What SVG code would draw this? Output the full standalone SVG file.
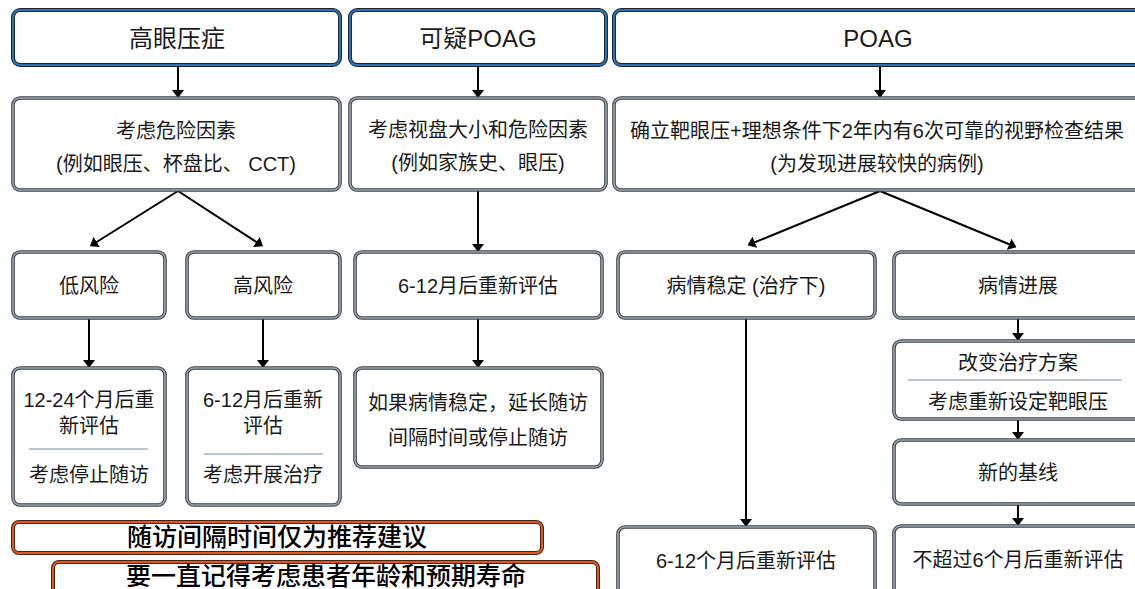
<svg xmlns="http://www.w3.org/2000/svg" width="1135" height="589" viewBox="0 0 1135 589">
<defs>
<style>
.t{font-family:"Liberation Sans","Noto Sans CJK SC",sans-serif;fill:#1a1a1a;text-anchor:middle;dominant-baseline:central}
.ti{font-size:24px}
.b{font-size:20px}
.o{font-size:25px;font-weight:500;fill:#000}
.do{fill:#fff;stroke:#1c2733;stroke-width:4}
.bi{fill:none;stroke:#2f6fb3;stroke-width:2}
.go{fill:#fff;stroke:#3b4147;stroke-width:3.6}
.gi{fill:none;stroke:#9aa4ae;stroke-width:1.6}
.oo{fill:#fff;stroke:#4a2410;stroke-width:4}
.oi{fill:none;stroke:#dc5a22;stroke-width:2}
.dv{stroke:#a9b3bc;stroke-width:1.5}
.c{stroke:#000;stroke-width:2;fill:none;marker-end:url(#ah)}
</style>
<marker id="ah" viewBox="0 0 8 12" refX="2" refY="6" markerWidth="8" markerHeight="12" markerUnits="userSpaceOnUse" orient="auto">
<path d="M0,0 L8,6 L0,12 z" fill="#000"/>
</marker>
</defs>
<rect width="1135" height="589" fill="#fff"/>

<g id="connectors">
<line class="c" x1="178" y1="65" x2="178" y2="92"/>
<line class="c" x1="478" y1="65" x2="478" y2="92"/>
<line class="c" x1="880" y1="65" x2="880" y2="92"/>
<line class="c" x1="178" y1="191" x2="95" y2="243"/>
<line class="c" x1="178" y1="191" x2="258" y2="243"/>
<line class="c" x1="880" y1="191" x2="753" y2="243"/>
<line class="c" x1="880" y1="191" x2="1011" y2="245"/>
<line class="c" x1="89" y1="318" x2="89" y2="362"/>
<line class="c" x1="263" y1="318" x2="263" y2="362"/>
<line class="c" x1="478" y1="190" x2="478" y2="246"/>
<line class="c" x1="478" y1="318" x2="478" y2="362"/>
<line class="c" x1="746" y1="319" x2="746" y2="521"/>
<line class="c" x1="1018" y1="318" x2="1018" y2="335"/>
<line class="c" x1="1018" y1="419" x2="1018" y2="434"/>
<line class="c" x1="1018" y1="504" x2="1018" y2="520"/>
</g>

<g id="n-ohn">
<rect class="do" x="13" y="10" width="327" height="55" rx="7"/>
<rect class="bi" x="13" y="10" width="327" height="55" rx="7"/>
<text class="t ti" x="177" y="38">高眼压症</text>
</g>
<g id="n-spoag">
<rect class="do" x="350" y="10" width="256" height="55" rx="7"/>
<rect class="bi" x="350" y="10" width="256" height="55" rx="7"/>
<text class="t ti" x="478" y="38">可疑POAG</text>
</g>
<g id="n-poag">
<rect class="do" x="614" y="10" width="530" height="55" rx="7"/>
<rect class="bi" x="614" y="10" width="530" height="55" rx="7"/>
<text class="t ti" x="878" y="38">POAG</text>
</g>

<g id="n-risk">
<rect class="go" x="13" y="98" width="327" height="92" rx="7"/>
<rect class="gi" x="13" y="98" width="327" height="92" rx="7"/>
<text class="t b" x="176" y="131">考虑危险因素</text>
<text class="t b" x="176" y="164">(例如眼压、杯盘比、 CCT)</text>
</g>
<g id="n-disc">
<rect class="go" x="350" y="98" width="256" height="92" rx="7"/>
<rect class="gi" x="350" y="98" width="256" height="92" rx="7"/>
<text class="t b" x="478" y="130">考虑视盘大小和危险因素</text>
<text class="t b" x="478" y="163">(例如家族史、眼压)</text>
</g>
<g id="n-target">
<rect class="go" x="614" y="98" width="530" height="92" rx="7"/>
<rect class="gi" x="614" y="98" width="530" height="92" rx="7"/>
<text class="t b" x="877" y="131">确立靶眼压+理想条件下2年内有6次可靠的视野检查结果</text>
<text class="t b" x="877" y="164">(为发现进展较快的病例)</text>
</g>

<g id="n-low">
<rect class="go" x="13" y="252" width="152" height="66" rx="7"/>
<rect class="gi" x="13" y="252" width="152" height="66" rx="7"/>
<text class="t b" x="89" y="286">低风险</text>
</g>
<g id="n-high">
<rect class="go" x="187" y="252" width="153" height="66" rx="7"/>
<rect class="gi" x="187" y="252" width="153" height="66" rx="7"/>
<text class="t b" x="263" y="286">高风险</text>
</g>
<g id="n-re612">
<rect class="go" x="355" y="252" width="247" height="66" rx="7"/>
<rect class="gi" x="355" y="252" width="247" height="66" rx="7"/>
<text class="t b" x="478" y="286">6-12月后重新评估</text>
</g>
<g id="n-stable">
<rect class="go" x="618" y="252" width="257" height="66" rx="7"/>
<rect class="gi" x="618" y="252" width="257" height="66" rx="7"/>
<text class="t b" x="746" y="286">病情稳定 (治疗下)</text>
</g>
<g id="n-prog">
<rect class="go" x="894" y="252" width="250" height="66" rx="7"/>
<rect class="gi" x="894" y="252" width="250" height="66" rx="7"/>
<text class="t b" x="1018" y="286">病情进展</text>
</g>

<g id="n-low2">
<rect class="go" x="13" y="368" width="152" height="137" rx="7"/>
<rect class="gi" x="13" y="368" width="152" height="137" rx="7"/>
<text class="t b" x="89" y="400">12-24个月后重</text>
<text class="t b" x="89" y="426">新评估</text>
<line class="dv" x1="29" y1="449" x2="148" y2="449"/>
<text class="t b" x="89" y="475">考虑停止随访</text>
</g>
<g id="n-high2">
<rect class="go" x="187" y="368" width="153" height="137" rx="7"/>
<rect class="gi" x="187" y="368" width="153" height="137" rx="7"/>
<text class="t b" x="263" y="400">6-12月后重新</text>
<text class="t b" x="263" y="426">评估</text>
<line class="dv" x1="204" y1="454" x2="323" y2="454"/>
<text class="t b" x="263" y="475">考虑开展治疗</text>
</g>
<g id="n-extend">
<rect class="go" x="355" y="368" width="247" height="99" rx="7"/>
<rect class="gi" x="355" y="368" width="247" height="99" rx="7"/>
<text class="t b" x="478" y="403">如果病情稳定，延长随访</text>
<text class="t b" x="478" y="438">间隔时间或停止随访</text>
</g>

<g id="n-change">
<rect class="go" x="894" y="341" width="250" height="78" rx="7"/>
<rect class="gi" x="894" y="341" width="250" height="78" rx="7"/>
<text class="t b" x="1018" y="363">改变治疗方案</text>
<line class="dv" x1="908" y1="380" x2="1122" y2="380"/>
<text class="t b" x="1018" y="402">考虑重新设定靶眼压</text>
</g>
<g id="n-base">
<rect class="go" x="894" y="440" width="250" height="64" rx="7"/>
<rect class="gi" x="894" y="440" width="250" height="64" rx="7"/>
<text class="t b" x="1018" y="473">新的基线</text>
</g>
<g id="n-re6">
<rect class="go" x="894" y="526" width="250" height="80" rx="7"/>
<rect class="gi" x="894" y="526" width="250" height="80" rx="7"/>
<text class="t b" x="1018" y="560">不超过6个月后重新评估</text>
</g>
<g id="n-re612b">
<rect class="go" x="618" y="527" width="257" height="80" rx="7"/>
<rect class="gi" x="618" y="527" width="257" height="80" rx="7"/>
<text class="t b" x="746" y="561">6-12个月后重新评估</text>
</g>

<g id="n-note1">
<rect class="oo" x="13" y="522" width="529" height="31" rx="6"/>
<rect class="oi" x="13" y="522" width="529" height="31" rx="6"/>
<text class="t o" x="277" y="537">随访间隔时间仅为推荐建议</text>
</g>
<g id="n-note2">
<rect class="oo" x="53" y="562" width="545" height="40" rx="6"/>
<rect class="oi" x="53" y="562" width="545" height="40" rx="6"/>
<text class="t o" x="326" y="576">要一直记得考虑患者年龄和预期寿命</text>
</g>
</svg>
